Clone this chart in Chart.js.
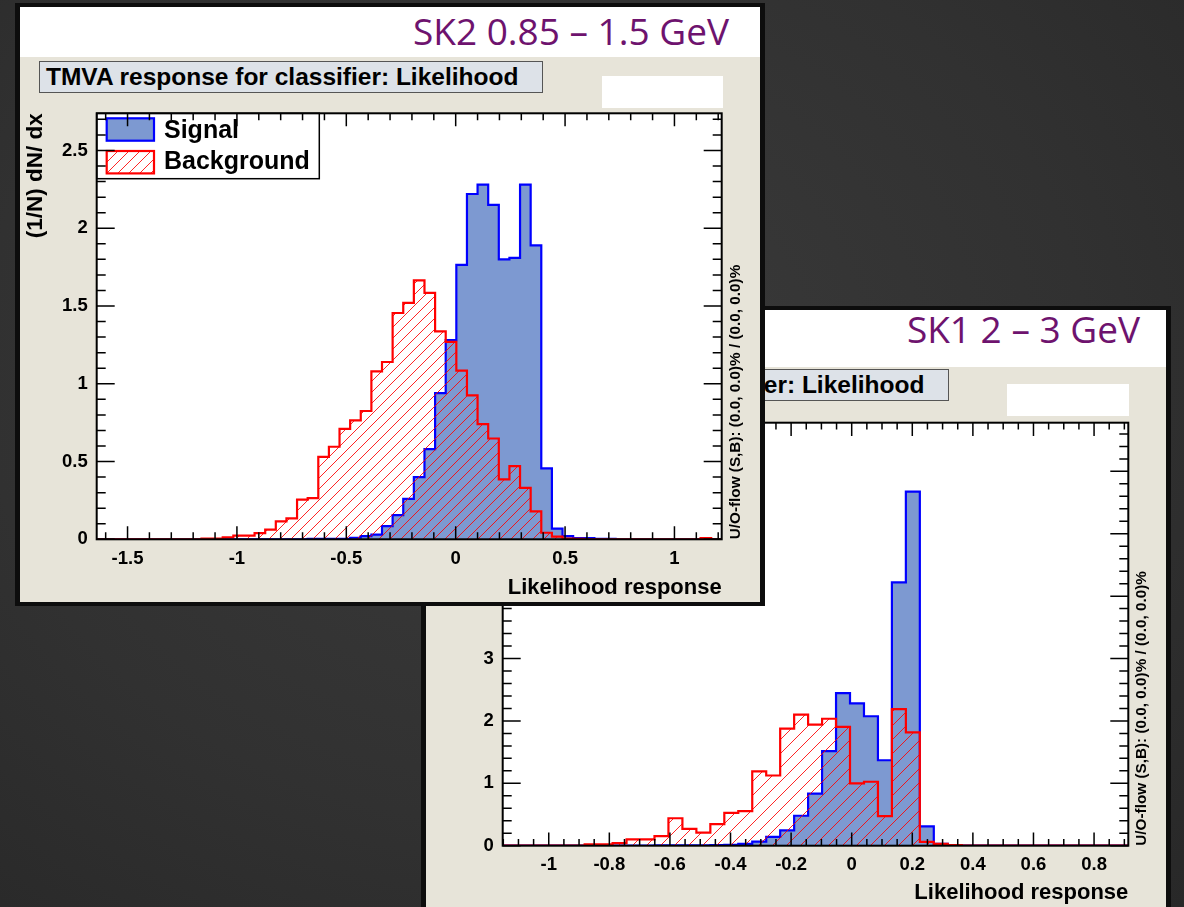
<!DOCTYPE html>
<html>
<head>
<meta charset="utf-8">
<script src="https://cdn.jsdelivr.net/npm/chart.js"></script>
<style>
html, body { margin: 0; padding: 0; }
body {
    width: 1184px; height: 907px; overflow: hidden; position: relative;
    background: radial-gradient(ellipse at 45% 40%, #3b3b3b 0%, #313131 60%, #282828 100%);
}
.panel { position: absolute; background: #e7e4d9; border: 4px solid #0d0d0d; border-left-width: 5px; border-right-width: 5px; overflow: hidden; }
.head { position: absolute; left: 0; top: 0; right: 0; background: #fff; }
.note { position: absolute; font-family: 'Open Sans'; font-size: 37px; line-height: 1; color: #6e136e; white-space: nowrap; }
.tbox {
    position: absolute; box-sizing: border-box; background: #dde2e8; border: 1.5px solid #555;
    font: bold 24.5px 'Liberation Sans'; line-height: 29px; padding-left: 6px; white-space: nowrap; overflow: hidden;
}
.wbox { position: absolute; background: #fff; }
canvas { position: absolute; left: 0; top: 0; }
</style>
</head>
<body>

<div class="panel" style="left:421px;top:306px;width:740px;height:600px">
    <div class="head" style="height:57px"></div>
    <div class="note" style="right:26px;top:0px">SK1 2 – 3 GeV</div>
    <div class="tbox" style="left:19px;top:59px;width:504px;height:32px">TMVA response for classifier: Likelihood</div>
    <div class="wbox" style="left:581px;top:74px;width:122px;height:32px"></div>
    <canvas id="sk1" width="740" height="600"></canvas>
</div>

<div class="panel" style="left:15px;top:3px;width:740px;height:595px">
    <div class="head" style="height:50px"></div>
    <div class="note" style="right:31px;top:5px">SK2 0.85 – 1.5 GeV</div>
    <div class="tbox" style="left:19px;top:54px;width:504px;height:32px">TMVA response for classifier: Likelihood</div>
    <div class="wbox" style="left:582px;top:69px;width:121px;height:32px"></div>
    <canvas id="sk2" width="740" height="595"></canvas>
</div>

<script>
// SK2 0.85 - 1.5 GeV : histogram bins (left edge of first bin, bin width), normalised counts
const sk2BinStart = -1.6474;
const sk2BinWidth = 0.04854;
const sk2Signal = [
    0, 0, 0, 0, 0, 0, 0, 0, 0, 0,
    0, 0, 0, 0, 0, 0, 0, 0, 0, 0,
    0.003, 0.003, 0.003, 0.003, 0.01, 0.02, 0.03, 0.085, 0.155, 0.26,
    0.40, 0.58, 0.94, 1.28, 1.765, 2.22, 2.28, 2.15, 1.80, 1.81,
    2.28, 1.89, 0.456, 0.068, 0.02, 0.007, 0.007, 0.003, 0.003, 0,
    0, 0, 0, 0, 0, 0, 0, 0, 0
];
const sk2Background = [
    0, 0, 0, 0, 0, 0, 0, 0, 0, 0,
    0.005, 0.005, 0.013, 0.023, 0.023, 0.04, 0.062, 0.115, 0.135, 0.255,
    0.265, 0.53, 0.595, 0.71, 0.765, 0.825, 1.08, 1.14, 1.455, 1.52,
    1.665, 1.585, 1.337, 1.27, 1.085, 0.926, 0.74, 0.648, 0.385, 0.47,
    0.33, 0.18, 0.042, 0.017, 0.005, 0.003, 0, 0, 0, 0,
    0, 0, 0, 0, 0, 0, 0, 0.008, 0
];
const sk2XTicks = [-1.5, -1, -0.5, 0, 0.5, 1];
const sk2XLabels = ['-1.5', '-1', '-0.5', '0', '0.5', '1'];
const sk2YTicks = [0, 0.5, 1, 1.5, 2, 2.5];
const sk2YLabels = ['0', '0.5', '1', '1.5', '2', '2.5'];

// SK1 2 - 3 GeV
const sk1BinStart = -1.1581;
const sk1BinWidth = 0.0461;
const sk1Signal = [
    0, 0, 0, 0, 0, 0, 0, 0, 0, 0,
    0, 0.005, 0.005, 0.005, 0.005, 0.01, 0.015, 0.03, 0.065, 0.14,
    0.245, 0.48, 0.835, 1.515, 2.445, 2.28, 2.075, 1.37, 4.22, 5.675,
    0.31, 0.03, 0.005, 0, 0, 0, 0, 0, 0, 0,
    0, 0, 0, 0, 0
];
const sk1Background = [
    0, 0, 0, 0, 0, 0, 0.02, 0.02, 0.04, 0.10,
    0.10, 0.155, 0.44, 0.27, 0.21, 0.345, 0.525, 0.555, 1.19, 1.125,
    1.875, 2.10, 1.94, 2.035, 1.905, 1.00, 1.025, 0.475, 2.19, 1.815,
    0.06, 0.03, 0.01, 0, 0, 0, 0, 0, 0, 0,
    0, 0, 0, 0, 0
];
const sk1XTicks = [-1, -0.8, -0.6, -0.4, -0.2, 0, 0.2, 0.4, 0.6, 0.8];
const sk1XLabels = ['-1', '-0.8', '-0.6', '-0.4', '-0.2', '0', '0.2', '0.4', '0.6', '0.8'];
const sk1YTicks = [0, 1, 2, 3, 4, 5, 6];
const sk1YLabels = ['0', '1', '2', '3', '4', '5', '6'];

const overflowText = 'U/O-flow (S,B): (0.0, 0.0)% / (0.0, 0.0)%';
const FONT = 'Liberation Sans';

function hatch(size) {
    let c = document.createElement('canvas');
    c.width = size; c.height = size;
    let g = c.getContext('2d');
    g.strokeStyle = 'rgba(255,0,0,0.85)';
    g.lineWidth = 1;
    g.beginPath();
    g.moveTo(0, size); g.lineTo(size, 0);
    g.moveTo(-2, 2); g.lineTo(2, -2);
    g.moveTo(size - 2, size + 2); g.lineTo(size + 2, size - 2);
    g.stroke();
    return g.createPattern(c, 'repeat');
}

function histPoints(start, width, values) {
    let pts = values.map((v, i) => ({x: start + i * width, y: v}));
    pts.push({x: start + values.length * width, y: values[values.length - 1]});
    return pts;
}

function tickValues(scale, step) {
    let out = [];
    for (let k = Math.ceil(scale.min / step - 1e-6); k * step <= scale.max + 1e-9; k++) {
        out.push(k * step);
    }
    return out;
}

// ROOT style frame: white pad, legend box, ticks inside on all four sides, U/O-flow note
const rootFrame = {
    id: 'rootFrame',
    beforeDatasetsDraw(chart) {
        let {ctx, chartArea: a} = chart;
        ctx.save();
        ctx.fillStyle = '#fff';
        ctx.fillRect(a.left, a.top, a.width, a.height);
        ctx.restore();
    },
    afterDatasetsDraw(chart, args, opts) {
        let {ctx, chartArea: a, scales: {x, y}} = chart;
        ctx.save();

        // legend
        let lg = opts.legend;
        ctx.fillStyle = '#fff';
        ctx.fillRect(a.left, a.top, lg.width, lg.height);
        ctx.strokeStyle = '#000';
        ctx.lineWidth = 1.5;
        ctx.strokeRect(a.left, a.top, lg.width, lg.height);
        ctx.font = 'bold ' + lg.fontSize + 'px "' + FONT + '"';
        ctx.textBaseline = 'alphabetic';
        ctx.textAlign = 'left';
        lg.rows.forEach(row => {
            let ds = chart.data.datasets.find(d => d.label === row.label);
            ctx.fillStyle = '#fff';
            ctx.fillRect(a.left + lg.boxX, a.top + row.y, lg.boxW, lg.boxH);
            ctx.fillStyle = ds.backgroundColor;
            ctx.fillRect(a.left + lg.boxX, a.top + row.y, lg.boxW, lg.boxH);
            ctx.strokeStyle = ds.borderColor;
            ctx.lineWidth = 2.2;
            ctx.strokeRect(a.left + lg.boxX, a.top + row.y, lg.boxW, lg.boxH);
            ctx.fillStyle = '#000';
            ctx.fillText(row.label, a.left + lg.textX, a.top + row.base);
        });

        // ticks
        ctx.strokeStyle = '#000';
        ctx.lineWidth = 1.5;
        ctx.beginPath();
        let t = opts.ticks;
        let xMajor = x.ticks.map(k => k.value);
        let yMajor = y.ticks.map(k => k.value);
        tickValues(x, t.xMinor).forEach(v => {
            let px = x.getPixelForValue(v);
            let len = xMajor.some(m => Math.abs(m - v) < 1e-6) ? t.xMajorLen : t.xMinorLen;
            ctx.moveTo(px, a.bottom); ctx.lineTo(px, a.bottom - len);
            ctx.moveTo(px, a.top); ctx.lineTo(px, a.top + len);
        });
        tickValues(y, t.yMinor).forEach(v => {
            let py = y.getPixelForValue(v);
            let len = yMajor.some(m => Math.abs(m - v) < 1e-6) ? t.yMajorLen : t.yMinorLen;
            ctx.moveTo(a.left, py); ctx.lineTo(a.left + len, py);
            ctx.moveTo(a.right, py); ctx.lineTo(a.right - len, py);
        });
        ctx.stroke();

        // frame
        ctx.lineWidth = 2;
        ctx.strokeRect(a.left, a.top, a.width, a.height);

        // under/overflow note on the right side
        ctx.translate(a.right + opts.noteOffset, a.bottom);
        ctx.rotate(-Math.PI / 2);
        ctx.font = 'bold 15.3px "' + FONT + '"';
        ctx.fillStyle = '#000';
        ctx.textAlign = 'left';
        ctx.textBaseline = 'middle';
        ctx.fillText(overflowText, 0, 0);
        ctx.restore();
    }
};

function makeChart(id, c) {
    let tickFont = {family: FONT, size: 18.5, weight: 'bold'};
    return new Chart(document.getElementById(id), {
        type: 'line',
        data: {
            datasets: [{
                label: 'Background',
                data: histPoints(c.start, c.width, c.background),
                stepped: 'before',
                fill: 'origin',
                borderColor: '#ff0000',
                backgroundColor: hatch(c.hatch),
                borderWidth: 2.2,
                pointRadius: 0,
                order: 0
            }, {
                label: 'Signal',
                data: histPoints(c.start, c.width, c.signal),
                stepped: 'before',
                fill: 'origin',
                borderColor: '#0000ff',
                backgroundColor: '#7d99d1',
                borderWidth: 2.2,
                pointRadius: 0,
                order: 1
            }]
        },
        options: {
            responsive: false,
            animation: false,
            devicePixelRatio: 1,
            layout: {padding: c.padding},
            plugins: {
                legend: {display: false},
                tooltip: {enabled: false},
                rootFrame: {
                    noteOffset: 13.6,
                    legend: {
                        width: 222.6, height: 65.4, fontSize: 25,
                        boxX: 10, boxW: 47.3, boxH: 22.4, textX: 67.3,
                        rows: [{label: 'Signal', y: 5, base: 24.5}, {label: 'Background', y: 37.7, base: 56}]
                    },
                    ticks: c.ticks
                }
            },
            scales: {
                x: {
                    type: 'linear',
                    min: c.xMin, max: c.xMax,
                    afterBuildTicks: s => { s.ticks = c.xTicks.map(v => ({value: v})); },
                    afterFit: s => { s.height = c.xHeight; s.paddingLeft = 0; s.paddingRight = 0; },
                    ticks: {
                        autoSkip: false, maxRotation: 0, padding: c.xLabelPad,
                        color: '#000', font: tickFont,
                        callback: (v, i) => c.xLabels[i]
                    },
                    grid: {display: false, drawTicks: false},
                    border: {display: false},
                    title: {
                        display: true, text: 'Likelihood response', align: 'end', color: '#000',
                        font: {family: FONT, size: 22, weight: 'bold'},
                        padding: {top: 0, bottom: c.xTitlePad}
                    }
                },
                y: {
                    type: 'linear',
                    min: 0, max: c.yMax,
                    afterBuildTicks: s => { s.ticks = c.yTicks.map(v => ({value: v})); },
                    afterFit: s => { s.width = 76.7; s.paddingTop = 0; s.paddingBottom = 0; },
                    ticks: {
                        autoSkip: false, padding: 9,
                        color: '#000', font: tickFont,
                        callback: (v, i) => c.yLabels[i]
                    },
                    grid: {display: false, drawTicks: false},
                    border: {display: false},
                    title: {
                        display: true, text: '(1/N) dN/ dx', align: 'end', color: '#000',
                        font: {family: FONT, size: 22.5, weight: 'bold'},
                        padding: {top: 1.8, bottom: 0}
                    }
                }
            }
        },
        plugins: [rootFrame]
    });
}

makeChart('sk1', {
    start: sk1BinStart, width: sk1BinWidth, signal: sk1Signal, background: sk1Background,
    xMin: -1.152, xMax: 0.913, yMax: 6.78,
    xTicks: sk1XTicks, xLabels: sk1XLabels, yTicks: sk1YTicks, yLabels: sk1YLabels,
    padding: {top: 112.7, right: 37.7, left: 0, bottom: 0},
    xHeight: 64.3, xLabelPad: 7.7, xTitlePad: 3.5, hatch: 14,
    ticks: {xMinor: 0.05, yMinor: 0.2, xMajorLen: 13.3, xMinorLen: 6.7, yMajorLen: 18, yMinorLen: 9}
});

makeChart('sk2', {
    start: sk2BinStart, width: sk2BinWidth, signal: sk2Signal, background: sk2Background,
    xMin: -1.641, xMax: 1.216, yMax: 2.739,
    xTicks: sk2XTicks, xLabels: sk2XLabels, yTicks: sk2YTicks, yLabels: sk2YLabels,
    padding: {top: 106.3, right: 38.3, left: 0, bottom: 0},
    xHeight: 62.7, xLabelPad: 9, xTitlePad: 0.5, hatch: 11,
    ticks: {xMinor: 0.1, yMinor: 0.1, xMajorLen: 13, xMinorLen: 7, yMajorLen: 18, yMinorLen: 9}
});
</script>
</body>
</html>
